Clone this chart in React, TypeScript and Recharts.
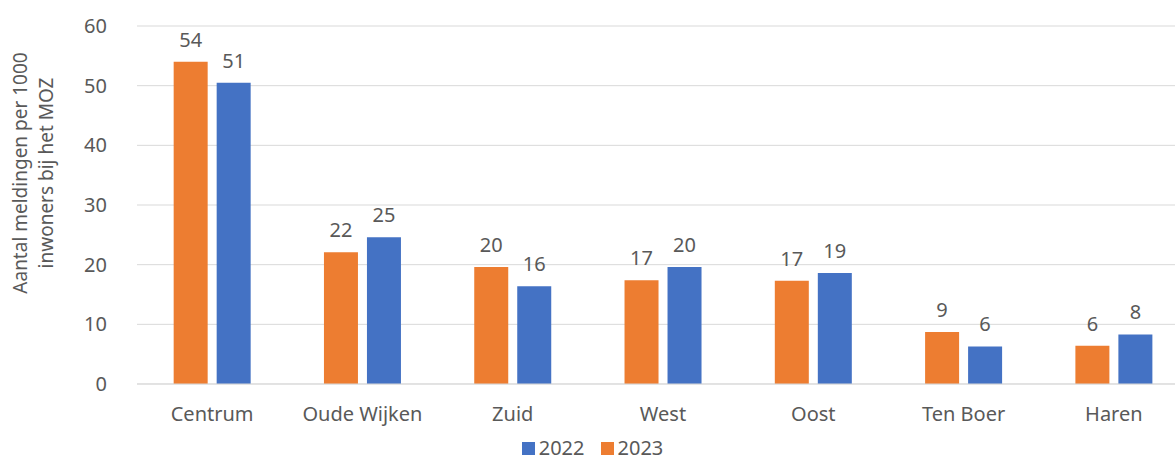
import React from 'react';
import {
  BarChart,
  Bar,
  XAxis,
  YAxis,
  CartesianGrid,
  Legend,
  LabelList
} from 'recharts';

const wijken = ['Centrum', 'Oude Wijken', 'Zuid', 'West', 'Oost', 'Ten Boer', 'Haren'];
const waarden2023 = [54, 22.1, 19.6, 17.4, 17.3, 8.7, 6.4];
const waarden2022 = [50.5, 24.6, 16.4, 19.6, 18.6, 6.3, 8.3];
const yTicks = [0, 10, 20, 30, 40, 50, 60];

const data = wijken.map((w, i) => ({
  wijk: w,
  j2023: waarden2023[i],
  j2022: waarden2022[i]
}));

const FONT = '"Noto Sans", sans-serif';
const TEXT = '#595959';
const ORANJE = '#ED7D31';
const BLAUW = '#4472C4';
const FS = 20;

// legenda staat in de bron als 2022, 2023 (omgekeerd t.o.v. de balken)
const LegendContent = () => (
  <div style={{ display: 'flex', justifyContent: 'center', fontFamily: FONT, fontSize: FS, color: TEXT, lineHeight: '26px', height: 26, width: 1185 }}>
    {[
      { kleur: BLAUW, naam: '2022' },
      { kleur: ORANJE, naam: '2023' }
    ].map((it) => (
      <span key={it.naam} style={{ display: 'flex', alignItems: 'center', margin: '0 8px' }}>
        <span style={{ width: 13, height: 13, background: it.kleur, marginRight: 4, display: 'inline-block' }} />
        {it.naam}
      </span>
    ))}
  </div>
);

const YLabel = () => (
  <text fill={TEXT} fontFamily={FONT} fontSize={19} textAnchor="middle" transform="translate(27, 173) rotate(-90)">
    <tspan x={0} dy={0}>Aantal meldingen per 1000</tspan>
    <tspan x={0} dy={26}>inwoners bij het MOZ</tspan>
  </text>
);

export default function App() {
  // de plotruimte loopt in de bron rechts net buiten beeld door
  return (
    <div style={{ position: 'absolute', left: 0, top: 0, width: 1175, height: 461, overflow: 'hidden', background: '#fff' }}>
      <BarChart
        width={1189}
        height={461}
        data={data}
        margin={{ top: 26, right: 0, left: 77, bottom: 0 }}
        barCategoryGap="24.4%"
        barGap={9}
      >
        <CartesianGrid vertical={false} stroke="#d9d9d9" />
        <XAxis
          dataKey="wijk"
          axisLine={{ stroke: '#d9d9d9' }}
          tickLine={false}
          tick={{ fill: TEXT, fontFamily: FONT, fontSize: FS }}
          tickMargin={17}
          height={51}
        />
        <YAxis
          domain={[0, 60]}
          ticks={yTicks}
          axisLine={false}
          tickLine={false}
          width={60}
          tick={{ fill: TEXT, fontFamily: FONT, fontSize: FS }}
          tickMargin={24}
          label={<YLabel />}
        />
        <Legend
          verticalAlign="bottom"
          align="left"
          content={<LegendContent />}
          wrapperStyle={{ left: 0, top: 435, bottom: 'auto' }}
        />
        <Bar dataKey="j2023" name="2023" fill={ORANJE} isAnimationActive={false}>
          <LabelList
            dataKey="j2023"
            position="top"
            offset={15}
            formatter={(v: any) => Math.round(v)}
            style={{ fill: TEXT, fontFamily: FONT, fontSize: FS }}
          />
        </Bar>
        <Bar dataKey="j2022" name="2022" fill={BLAUW} isAnimationActive={false}>
          <LabelList
            dataKey="j2022"
            position="top"
            offset={15}
            formatter={(v: any) => Math.round(v)}
            style={{ fill: TEXT, fontFamily: FONT, fontSize: FS }}
          />
        </Bar>
      </BarChart>
    </div>
  );
}
